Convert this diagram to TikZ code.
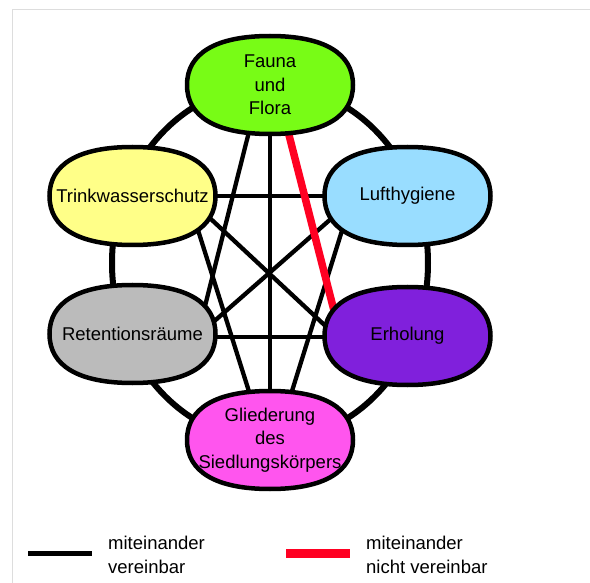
\documentclass[tikz,border=0pt]{standalone}
\usepackage{fontspec}
\setmainfont{Liberation Sans}
\usetikzlibrary{calc}
\pgfdeclarelayer{bg}
\pgfdeclarelayer{shapes}
\pgfsetlayers{bg,shapes,main}
\definecolor{cF}{RGB}{120,252,22}
\definecolor{cT}{RGB}{255,255,136}
\definecolor{cL}{RGB}{153,221,255}
\definecolor{cR}{RGB}{187,187,187}
\definecolor{cE}{RGB}{128,32,220}
\definecolor{cG}{RGB}{255,85,238}
\definecolor{cRed}{RGB}{255,0,34}
\definecolor{cFrame}{RGB}{221,221,221}
\newcommand\bk{0.65}
\newcommand\blobdraw[2]{%
  \draw[blobline, fill=#2] (#1.west)
    .. controls ($(#1.west)!\bk!(#1.north west)$) and ($(#1.north)!\bk!(#1.north west)$) .. (#1.north)
    .. controls ($(#1.north)!\bk!(#1.north east)$) and ($(#1.east)!\bk!(#1.north east)$) .. (#1.east)
    .. controls ($(#1.east)!\bk!(#1.south east)$) and ($(#1.south)!\bk!(#1.south east)$) .. (#1.south)
    .. controls ($(#1.south)!\bk!(#1.south west)$) and ($(#1.west)!\bk!(#1.south west)$) .. (#1.west) -- cycle;}
\tikzset{
  box/.style={rectangle, inner sep=0pt, outer sep=0pt, minimum width=166pt, minimum height=98pt,
    align=center, font=\fontsize{18.5}{23.5}\selectfont},
  blobline/.style={line width=4.5pt, draw=black},
  ring/.style={line width=6pt, draw=black},
  ok/.style={line width=4.3pt, draw=black},
  bad/.style={line width=7.5pt, draw=cRed},
  legtext/.style={anchor=west, align=left, inner sep=0pt, font=\fontsize{18.5}{24}\selectfont},
}
\begin{document}
\begin{tikzpicture}[x=1pt,y=-1pt]
\useasboundingbox (0,0) rectangle (590,583);
\draw[cFrame, line width=1pt] (12.5,583) -- (12.5,9.5) -- (590,9.5);

\node[box] (F) at (270,85) {Fauna\\und\\Flora};
\node[box] (T) at (132.5,196) {Trinkwasserschutz};
\node[box] (L) at (407.5,196) {Lufthygiene};
\node[box] (R) at (132.5,334) {Retentionsräume};
\node[box] (E) at (407.5,336) {Erholung};
\node[box] (G) at (270,440) {Gliederung\\des\\Siedlungskörpers};

\begin{pgfonlayer}{bg}
  \coordinate (ringc) at (270,263);
  \draw[ring] (ringc) ellipse [x radius=158, y radius=178];
  \draw[ok] (F) -- (G);
  \draw[ok] (T) -- (L);
  \draw[ok] ($(R)+(0,3)$) -- ($(E)+(0,1)$);
  \draw[ok] ($(F)+(-13,15)$) -- ($(R)+(69,-14)$);
  \draw[ok] ($(T)+(56,4)$) -- ($(G)+(-12,-20)$);
  \draw[ok] ($(T)+(58,4)$) -- ($(E)+(-67,4)$);
  \draw[ok] ($(L)+(-55,4)$) -- ($(R)+(66,1)$);
  \draw[ok] ($(L)+(-56,4)$) -- ($(G)+(13,-20)$);
  \draw[bad] ($(F)+(10,15)$) -- ($(E)+(-67,0)$);
\end{pgfonlayer}

\begin{pgfonlayer}{shapes}
  \blobdraw{F}{cF}
  \blobdraw{T}{cT}
  \blobdraw{L}{cL}
  \blobdraw{R}{cR}
  \blobdraw{E}{cE}
  \blobdraw{G}{cG}
\end{pgfonlayer}

\coordinate (k1) at (28,553);
\coordinate (k2) at (92,553);
\draw[ok, line width=5pt] (k1) -- (k2);
\coordinate (r1) at (286,553.5);
\coordinate (r2) at (350,553.5);
\draw[cRed, line width=9pt] (r1) -- (r2);
\node[legtext] (t1) at (108,555) {miteinander\\vereinbar};
\node[legtext] (t2) at (366,555) {miteinander\\nicht vereinbar};
\end{tikzpicture}
\end{document}
